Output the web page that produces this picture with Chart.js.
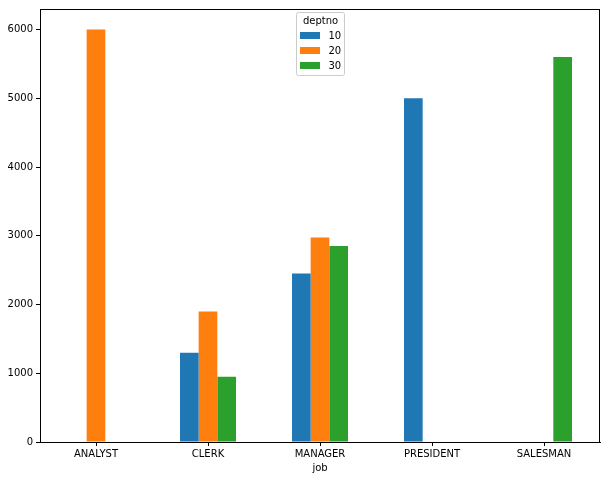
<!DOCTYPE html>
<html>
<head>
<meta charset="utf-8">
<script src="https://cdn.jsdelivr.net/npm/chart.js@4/dist/chart.umd.min.js"></script>
<style>
  html, body { margin: 0; padding: 0; background: #fff; }
  #wrap { width: 604px; height: 480px; }
</style>
</head>
<body>
<div id="wrap"><canvas id="salChart" width="604" height="480"></canvas></div>
<script>
const jobs = ['ANALYST', 'CLERK', 'MANAGER', 'PRESIDENT', 'SALESMAN'];
const deptnos = ['10', '20', '30'];
const dept10 = [null, 1300, 2450, 5000, null];
const dept20 = [6000, 1900, 2975, null, null];
const dept30 = [null, 950, 2850, null, 5600];
const yTicks = [0, 1000, 2000, 3000, 4000, 5000, 6000];
const colors = ['#1f77b4', '#ff7f0e', '#2ca02c'];

const FONT = 'DejaVu Sans';

// full box around the axes, like matplotlib spines
const frame = {
    id: 'frame',
    afterDraw(chart) {
        const { ctx, chartArea: a } = chart;
        ctx.save();
        ctx.strokeStyle = '#000';
        ctx.lineWidth = 1;
        ctx.strokeRect(Math.round(a.left) + 0.5, Math.round(a.top) + 0.5,
            Math.round(a.right - a.left) - 1, Math.round(a.bottom - a.top));
        ctx.restore();
    }
};

// legend box with title inside the plot, top centre
const boxLegend = {
    id: 'boxLegend',
    afterDraw(chart) {
        const { ctx, chartArea: a } = chart;
        const w = 48, h = 63;
        const x = Math.round((a.left + a.right) / 2 - w / 2) + 0.5;
        const y = 12.5;
        ctx.save();
        ctx.fillStyle = 'rgba(255,255,255,0.8)';
        ctx.strokeStyle = '#cccccc';
        ctx.lineWidth = 1;
        ctx.beginPath();
        ctx.roundRect(x, y, w, h, 2);
        ctx.fill();
        ctx.stroke();
        ctx.fillStyle = '#000';
        ctx.font = '10px "' + FONT + '"';
        ctx.textAlign = 'center';
        ctx.textBaseline = 'middle';
        ctx.fillText('deptno', x + w / 2, y + 9);
        ctx.textAlign = 'left';
        chart.data.datasets.forEach((ds, i) => {
            const cy = y + 23 + i * 15;
            ctx.fillStyle = ds.backgroundColor;
            ctx.fillRect(x + 3.5, cy - 3.5, 20, 7);
            ctx.fillStyle = '#000';
            ctx.fillText(ds.label, x + 32, cy + 0.5);
        });
        ctx.restore();
    }
};

const tickFont = { family: FONT, size: 10 };

new Chart(document.getElementById('salChart').getContext('2d'), {
    type: 'bar',
    data: {
        labels: jobs,
        datasets: [
            { label: deptnos[0], data: dept10, backgroundColor: colors[0] },
            { label: deptnos[1], data: dept20, backgroundColor: colors[1] },
            { label: deptnos[2], data: dept30, backgroundColor: colors[2] }
        ]
    },
    options: {
        responsive: false,
        animation: false,
        layout: { padding: { top: 7, right: 4, bottom: 0, left: 0 } },
        datasets: {
            bar: { categoryPercentage: 0.5, barPercentage: 1.0, borderWidth: 0 }
        },
        scales: {
            x: {
                grid: { display: true, offset: false, drawOnChartArea: false, drawTicks: true, tickLength: 4, color: '#000' },
                border: { display: true, color: '#000' },
                ticks: { color: '#000', font: tickFont, padding: 2, maxRotation: 0 },
                title: { display: true, text: 'job', color: '#000', font: tickFont, padding: { top: 2, bottom: 6 } },
                afterFit(scale) { scale.height = 38; }
            },
            y: {
                min: 0, max: 6300,
                afterBuildTicks(scale) { scale.ticks = yTicks.map(v => ({ value: v })); },
                grid: { display: true, drawOnChartArea: false, drawTicks: true, tickLength: 4, color: '#000' },
                border: { display: true, color: '#000' },
                ticks: { color: '#000', font: tickFont, padding: 3, callback: v => String(v) },
                afterFit(scale) { scale.width = 40; }
            }
        },
        plugins: {
            legend: { display: false },
            tooltip: { enabled: false }
        }
    },
    plugins: [frame, boxLegend]
});
</script>
</body>
</html>
